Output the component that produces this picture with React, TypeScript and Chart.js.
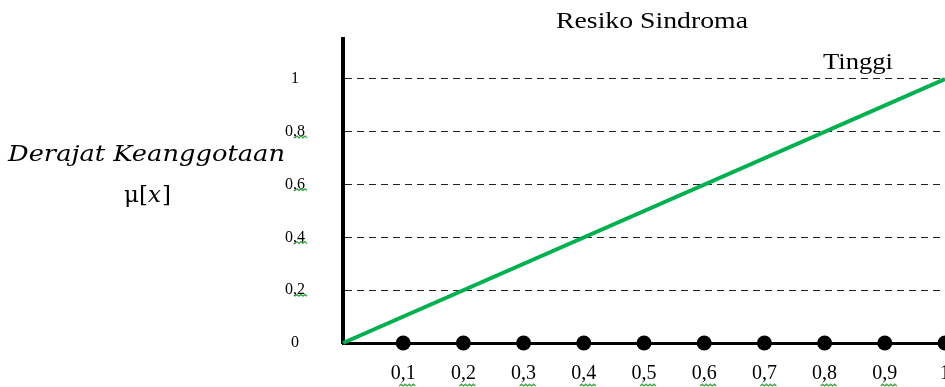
import React, { useEffect, useRef } from "react";
import { Chart, registerables } from "chart.js";

Chart.register(...registerables);

// ---- data ----
const lineX = [0, 1];
const lineY = [0, 1];
const dotX = [0.1, 0.2, 0.3, 0.4, 0.5, 0.6, 0.7, 0.8, 0.9, 1];
const dotY = [0, 0, 0, 0, 0, 0, 0, 0, 0, 0];
const yTicks = [0, 0.2, 0.4, 0.6, 0.8, 1];
const yTickLabels = ["0", "0,2", "0,4", "0,6", "0,8", "1"];
const xTicks = [0.1, 0.2, 0.3, 0.4, 0.5, 0.6, 0.7, 0.8, 0.9, 1];
const xTickLabels = ["0,1", "0,2", "0,3", "0,4", "0,5", "0,6", "0,7", "0,8", "0,9", "1"];
const chartTitle = "Resiko Sindroma";
const seriesLabel = "Tinggi";
const yTitleLine1 = "Derajat Keanggotaan";
const yTitleLine2 = ["μ[", "x", "]"];

const SERIF = "'Liberation Serif', 'Times New Roman', serif";

function labelFor(values: number[], labels: string[], v: number) {
  const i = values.findIndex((t) => Math.abs(t - v) < 1e-9);
  return i >= 0 ? labels[i] : "";
}

function fitText(
  ctx: CanvasRenderingContext2D,
  text: string,
  font: string,
  left: number,
  width: number,
  baseline: number
) {
  ctx.save();
  ctx.font = font;
  ctx.textAlign = "left";
  ctx.textBaseline = "alphabetic";
  const w = ctx.measureText(text).width;
  const sx = width / w;
  ctx.translate(left, baseline);
  ctx.scale(sx, 1);
  ctx.fillText(text, 0, 0);
  ctx.restore();
}

function wave(ctx: CanvasRenderingContext2D, x1: number, x2: number, y: number) {
  ctx.save();
  ctx.strokeStyle = "#3aa845";
  ctx.lineWidth = 1.3;
  ctx.beginPath();
  let up = true;
  ctx.moveTo(x1, y);
  for (let x = x1 + 2; x <= x2 + 0.01; x += 2) {
    ctx.lineTo(x, up ? y - 1.8 : y);
    up = !up;
  }
  ctx.stroke();
  ctx.restore();
}

const textPlugin = {
  id: "textPlugin",
  afterDraw(chart: any) {
    const ctx: CanvasRenderingContext2D = chart.ctx;
    ctx.save();
    ctx.fillStyle = "#000";
    fitText(ctx, chartTitle, `24px ${SERIF}`, 556, 192, 28);
    fitText(ctx, seriesLabel, `24px ${SERIF}`, 823, 70, 69);
    fitText(ctx, yTitleLine1, `italic 23px 'DejaVu Serif', serif`, 8, 277, 161);
    // μ[x] with italic x
    ctx.textBaseline = "alphabetic";
    ctx.textAlign = "left";
    let x0 = 124;
    const fonts = [`23px 'DejaVu Serif', serif`, `italic 23px 'DejaVu Serif', serif`, `23px 'DejaVu Serif', serif`];
    yTitleLine2.forEach((seg, i) => {
      ctx.font = fonts[i];
      ctx.fillText(seg, x0, 202);
      x0 += ctx.measureText(seg).width + (i === 1 ? 1 : 0);
    });
    // spell-check wavy underlines under decimal labels
    const xs = chart.scales.x;
    const ys = chart.scales.y;
    xTicks.forEach((v, i) => {
      if (xTickLabels[i].includes(",")) {
        const cx = xs.getPixelForValue(v);
        wave(ctx, cx - 4, cx + 12, 386);
      }
    });
    yTicks.forEach((v, i) => {
      if (yTickLabels[i].includes(",")) {
        const cy = ys.getPixelForValue(v);
        wave(ctx, 295, 307, cy + 6);
      }
    });
    ctx.restore();
  },
};

export default function App() {
  const ref = useRef<HTMLCanvasElement | null>(null);
  useEffect(() => {
    if (!ref.current) return;
    const chart = new Chart(ref.current, {
      type: "line",
      data: {
        datasets: [
          {
            label: seriesLabel,
            data: lineX.map((x, i) => ({ x, y: lineY[i] })),
            borderColor: "#00b050",
            borderWidth: 4,
            pointRadius: 0,
            fill: false,
            clip: false as any,
          },
          {
            label: "points",
            data: dotX.map((x, i) => ({ x, y: dotY[i] })),
            showLine: false,
            pointRadius: 7.5,
            pointBackgroundColor: "#000",
            pointBorderColor: "#000",
            pointBorderWidth: 0,
            clip: false as any,
          },
        ],
      },
      options: {
        responsive: false,
        animation: false,
        events: [],
        layout: { autoPadding: false, padding: { top: 39.4, left: 0, right: 0, bottom: 0 } },
        plugins: {
          legend: { display: false },
          title: { display: false },
          tooltip: { enabled: false },
        },
        scales: {
          x: {
            type: "linear",
            min: 0,
            max: 1,
            afterBuildTicks: (s: any) => {
              s.ticks = xTicks.map((value) => ({ value }));
            },
            afterFit: (s: any) => {
              s.height = 44;
              s.paddingLeft = 0;
              s.paddingRight = 0;
              s.paddingTop = 0;
              s.paddingBottom = 0;
            },
            grid: { display: false, drawTicks: false },
            border: { display: true, color: "#000", width: 3 },
            ticks: {
              padding: 19,
              maxRotation: 0,
              autoSkip: false,
              color: "#000",
              font: { family: SERIF, size: 20 },
              callback: (v: any) => labelFor(xTicks, xTickLabels, Number(v)),
            },
          },
          y: {
            type: "linear",
            min: 0,
            max: 1.15,
            afterBuildTicks: (s: any) => {
              s.ticks = yTicks.map((value) => ({ value }));
            },
            afterFit: (s: any) => {
              s.width = 343;
              s.paddingLeft = 0;
              s.paddingRight = 0;
              s.paddingTop = 0;
              s.paddingBottom = 0;
            },
            grid: {
              display: true,
              drawTicks: false,
              color: (c: any) => (c.tick && c.tick.value === 0 ? "rgba(0,0,0,0)" : "#222"),
              lineWidth: 1,
            },
            border: { display: true, color: "#000", width: 4, dash: [7, 5] },
            ticks: {
              padding: 38,
              crossAlign: "center",
              color: "#000",
              font: { family: SERIF, size: 16 },
              callback: (v: any) => labelFor(yTicks, yTickLabels, Number(v)),
            },
          },
        },
      } as any,
      plugins: [textPlugin],
    });
    return () => chart.destroy();
  }, []);

  return (
    <div style={{ position: "absolute", left: 0, top: 0, width: 945, height: 387, background: "#fff" }}>
      <canvas ref={ref} width={945} height={387} style={{ display: "block" }} />
    </div>
  );
}
